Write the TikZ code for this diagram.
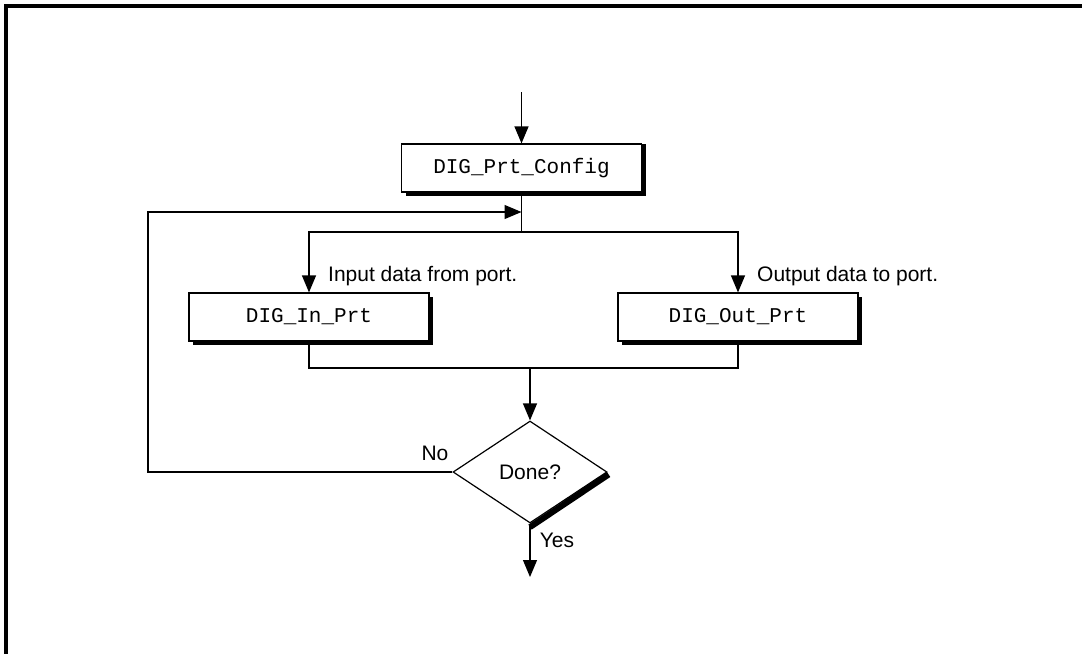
\documentclass[tikz,border=0pt]{standalone}
\usepackage{fontspec}
\setmainfont{Liberation Sans}
\setmonofont{Liberation Mono}
\usetikzlibrary{arrows.meta,shapes.geometric,shadows}

\tikzset{
  funcbox/.style={draw, line width=1.2pt, fill=white, minimum width=240pt, minimum height=48pt,
    inner sep=0pt, font=\fontsize{21}{24}\selectfont\ttfamily,
    drop shadow={shadow xshift=4pt, shadow yshift=-4pt, fill=black, opacity=1}},
  decision/.style={diamond, draw, line width=1.2pt, fill=white, minimum width=154pt,
    minimum height=102pt, inner sep=0pt, font=\fontsize{21}{24}\selectfont},
  note/.style={inner sep=0pt, font=\fontsize{21}{24}\selectfont},
  link/.style={line width=1.2pt},
  flow/.style={line width=1.2pt, -{Triangle[length=17pt,width=14pt]}},
}

\begin{document}
\begin{tikzpicture}[x=1pt, y=-1pt]
  \useasboundingbox (0,0) rectangle (1082,654);
  \draw[line width=3.2pt] (1082,6) -- (6,6) -- (6,654);

  % boxes
  \node[funcbox, drop shadow={shadow xshift=4pt, shadow yshift=0pt, fill=black, opacity=1}] (cfg) at (521.5,168) {DIG\_Prt\_Config};
  \node[funcbox] (inprt) at (309,317) {DIG\_In\_Prt};
  \node[funcbox] (outprt) at (738,317) {DIG\_Out\_Prt};
  \node[decision] (done) at (530,472) {Done?};
  \draw[line width=6pt] ([shift={(1,2.5)}]done.east) -- ([shift={(0,3.5)}]done.south);

  % labels
  \node[note, anchor=west] (inlbl) at (328,276) {Input data from port.};
  \node[note, anchor=west] (outlbl) at (757,276) {Output data to port.};
  \node[note] (nolbl) at (435,453) {No};
  \node[note] (yeslbl) at (557,540) {Yes};

  \coordinate (entry) at (521.5,92);
  \coordinate (loopin) at (521.5,212);
  \coordinate (split) at (521.5,232);
  \coordinate (join) at (530,368);
  \coordinate (back) at (148,472);
  \coordinate (exit) at (530,577);

  % connectors
  \draw[flow] (entry) -- (cfg);
  \draw[link] (cfg) -- (split);
  \draw[flow] (split) -| (inprt);
  \draw[flow] (split) -| (outprt);
  \draw[link] (inprt) |- (join);
  \draw[link] (outprt) |- (join);
  \draw[flow] (join) -- (done);
  \draw[flow] (done) -- (exit);
  \draw[flow] (done) -- (back) |- (loopin);
\end{tikzpicture}
\end{document}
